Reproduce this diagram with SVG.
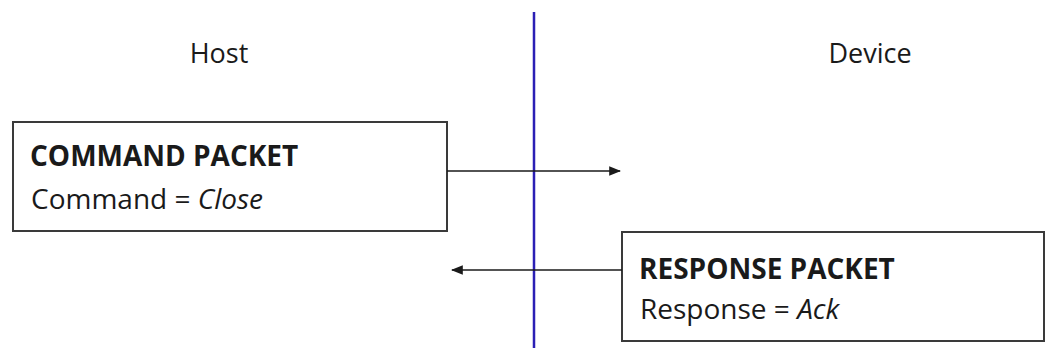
<svg xmlns="http://www.w3.org/2000/svg" width="1055" height="352" viewBox="0 0 1055 352">
<style>
text{font-family:"Open Sans","Liberation Sans",sans-serif;fill:#1a1a1a;font-size:27px}
.b{font-weight:bold;font-size:28px}
.v{font-size:28px}
.box{fill:#fff;stroke:#3a3a3a;stroke-width:2}
.conn{stroke:#1a1a1a;stroke-width:1.6;fill:none}
</style>
<defs>
<marker id="ah" viewBox="0 0 10 10" refX="9" refY="5" markerWidth="12" markerHeight="12" markerUnits="userSpaceOnUse" orient="auto">
<path d="M0,1 L10,5 L0,9 Z" fill="#1a1a1a"/>
</marker>
</defs>
<rect width="1055" height="352" fill="#fff"/>
<text x="219" y="63" text-anchor="middle">Host</text>
<text x="870" y="63" text-anchor="middle">Device</text>
<g id="command">
<rect class="box" x="13" y="122" width="434" height="109"/>
<text class="b" x="30" y="166">COMMAND PACKET</text>
<text class="v" x="31" y="209">Command = <tspan font-style="italic">Close</tspan></text>
</g>
<g id="response">
<rect class="box" x="622" y="232" width="422" height="109"/>
<text class="b" x="639" y="279">RESPONSE PACKET</text>
<text class="v" x="640" y="319">Response = <tspan font-style="italic">Ack</tspan></text>
</g>
<g id="connectors">
<line x1="534" y1="12" x2="534" y2="348" stroke="#2b1fb5" stroke-width="2.5"/>
<line class="conn" x1="447" y1="171" x2="620" y2="171" marker-end="url(#ah)"/>
<line class="conn" x1="622" y1="270" x2="452" y2="270" marker-end="url(#ah)"/>
</g>
</svg>
